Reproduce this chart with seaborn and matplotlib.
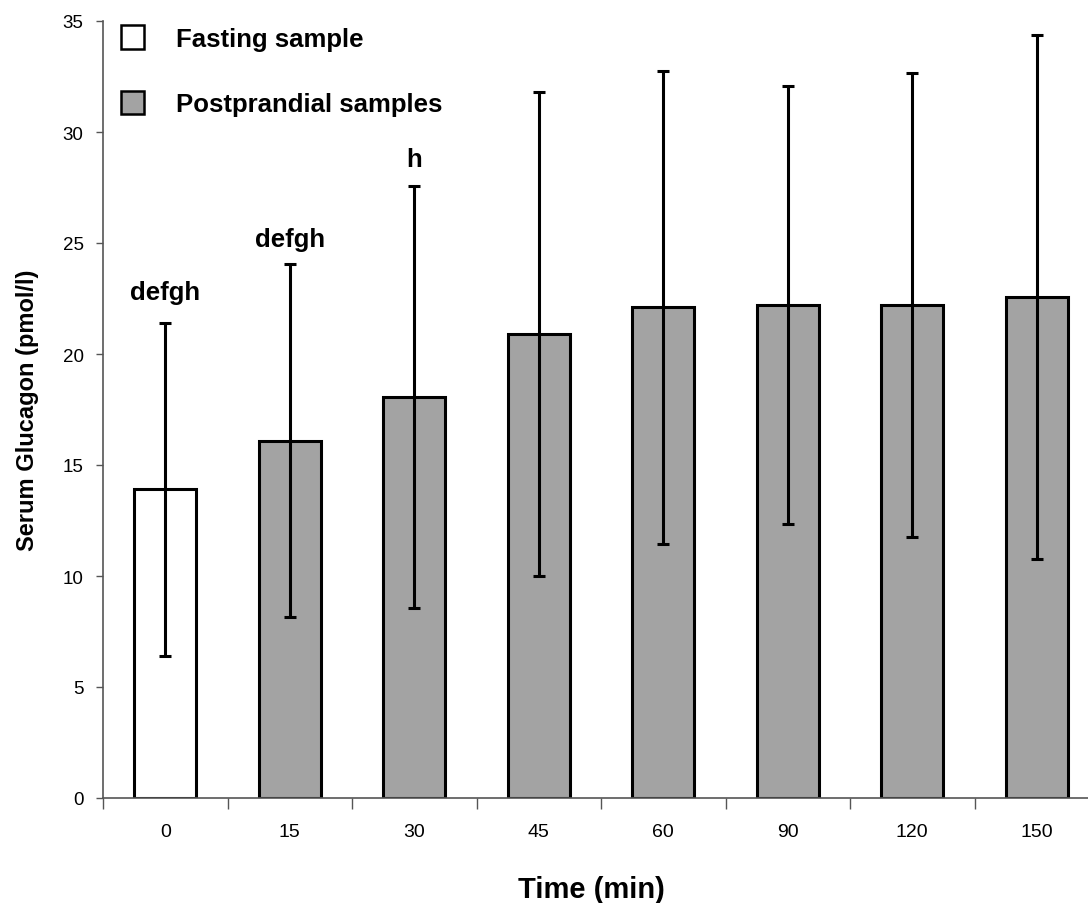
import matplotlib
matplotlib.use("Agg")
import matplotlib.pyplot as plt
import seaborn as sns
import pandas as pd
from matplotlib.patches import Patch

times = ["0", "15", "30", "45", "60", "90", "120", "150"]
means = [13.9, 16.1, 18.05, 20.9, 22.1, 22.2, 22.2, 22.55]
sds = [7.5, 7.95, 9.5, 10.9, 10.66, 9.86, 10.46, 11.8]
groups = ["Fasting sample"] + ["Postprandial samples"] * 7
annotations = ["defgh", "defgh", "h", "", "", "", "", ""]
annot_y = [22.8, 25.2, 28.8, 0, 0, 0, 0, 0]

sns.set_theme(style="ticks")
plt.rcParams['font.family'] = ['Liberation Sans', 'DejaVu Sans']
for k in ["text.color", "axes.labelcolor", "xtick.color", "ytick.color"]:
    plt.rcParams[k] = "black"

df = pd.DataFrame({"Time": times, "Glucagon": means, "Group": groups})

W, H = 1088, 904
fig = plt.figure(figsize=(W / 100, H / 100), dpi=100)
ax = fig.add_axes([103 / W, (H - 799) / H, (1099 - 103) / W, (799 - 22) / H])

grey = "#a3a3a3"
sns.barplot(data=df, x="Time", y="Glucagon", hue="Group",
            palette={"Fasting sample": "white", "Postprandial samples": grey},
            dodge=False, width=0.5, edgecolor="black", linewidth=2.2,
            errorbar=None, legend=False, ax=ax, order=times)

ax.errorbar(x=list(range(len(times))), y=means, yerr=sds, fmt="none",
            ecolor="black", elinewidth=2.2, capsize=4.5, capthick=2.2, zorder=5)

for i, (t, yv) in enumerate(zip(annotations, annot_y)):
    if t:
        ax.text(i, yv, t, ha="center", va="center", fontsize=18.5, fontweight="bold")

ax.set_ylim(0, 35)
ax.set_xlim(-0.5, 7.5)
ax.set_yticks(range(0, 36, 5))
ax.set_xticks(range(len(times)))
ax.set_xticklabels(times, fontsize=14)
ax.tick_params(axis="y", labelsize=13.5, length=5, width=1, color="#555555", pad=9)
ax.tick_params(axis="x", length=0, pad=18)
ax.set_xticks([i + 0.5 for i in range(-1, len(times))], minor=True)
ax.tick_params(axis="x", which="minor", length=8, width=1, color="#555555")

for s in ["top", "right"]:
    ax.spines[s].set_visible(False)
for s in ["left", "bottom"]:
    ax.spines[s].set_color("#555555")
    ax.spines[s].set_linewidth(1.2)

ax.set_ylabel("Serum Glucagon (pmol/l)", fontsize=17, fontweight="bold", labelpad=17)
ax.set_xlabel("Time (min)", fontsize=21, fontweight="bold")
ax.xaxis.set_label_coords(0.49, -0.099)

handles = [Patch(facecolor="white", edgecolor="black", linewidth=1.8, label="Fasting sample"),
           Patch(facecolor=grey, edgecolor="black", linewidth=1.8, label="Postprandial samples")]
fig.legend(handles=handles, loc="upper left", bbox_to_anchor=(121 / W, 1 - 26 / H),
           bbox_transform=fig.transFigure, frameon=False,
           prop={"weight": "bold", "size": 18.5}, handlelength=0.9, handleheight=1.05,
           labelspacing=1.55, handletextpad=1.25, borderpad=0, borderaxespad=0)

fig.savefig("out.png", dpi=100)
